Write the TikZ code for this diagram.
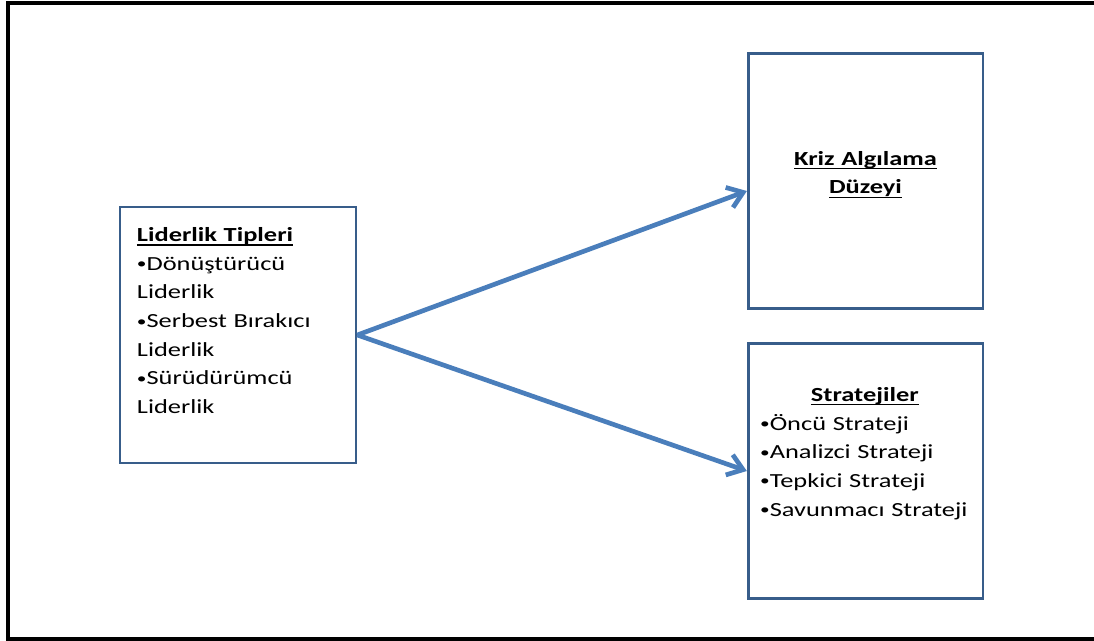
\documentclass[tikz,border=0pt]{standalone}
\usepackage{fontspec}
\setmainfont{Carlito}[FakeStretch=1.32]
\usetikzlibrary{arrows.meta,positioning}
\definecolor{boxblue}{RGB}{56,93,138}
\definecolor{arrowblue}{RGB}{74,126,187}
\newcommand{\headtext}[1]{\leavevmode\setbox0\hbox{\bfseries #1}\rlap{\rule[-3pt]{\wd0}{0.9pt}}\box0}
\newcommand{\itembul}{\raisebox{1.2pt}{\fontsize{11}{11}\selectfont •}}

\begin{document}
\begin{tikzpicture}[
    x=0.75pt, y=-0.75pt,
    box/.style={rectangle,draw=boxblue,line width=2pt,minimum width=176pt,
      minimum height=191pt,inner sep=0pt},
    listtext/.style={inner sep=0pt,text width=157pt,align=left,
      font=\fontsize{15}{21.5}\selectfont},
    arrow/.style={-{Straight Barb[length=11pt,width=16pt]},draw=arrowblue,line width=3.5pt}
  ]
    \useasboundingbox (0,0) rectangle (1094,641);
    \draw[line width=2.4pt] (1094,3) -- (8,3) -- (8,639) -- (1094,639);

    \node[box,minimum width=177pt,minimum height=192pt] (lider) at (238,335) {};
    \node[box] (kriz) at (865.5,181) {};
    \node[box] (strat) at (865.5,471) {};

    \node[listtext,anchor=base west] (liderText) at ([shift={(18,36)}]lider.north west)
      {\headtext{Liderlik Tipleri}\\\itembul Dönüştürücü\\Liderlik\\\itembul Serbest Bırakıcı\\Liderlik\\\itembul Sürüdürümcü\\Liderlik};
    \node[listtext,align=center,anchor=base] (krizText) at ([shift={(0,113)}]kriz.north)
      {\headtext{Kriz Algılama}\\\headtext{Düzeyi}};
    \node[listtext,anchor=base west] (stratText) at ([shift={(13,59)}]strat.north west)
      {\makebox[\linewidth]{\headtext{Stratejiler}}\\\itembul Öncü Strateji\\\itembul Analizci Strateji\\\itembul Tepkici Strateji\\\itembul Savunmacı Strateji};

    \draw[arrow] (lider.east) -- ([yshift=-7.5pt]kriz.west);
    \draw[arrow] (lider.east) -- (strat.west);
  \end{tikzpicture}
\end{document}
